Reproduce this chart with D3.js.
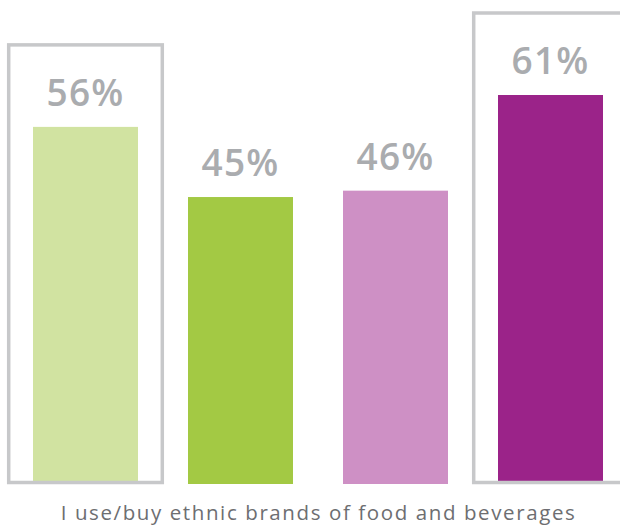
<!DOCTYPE html>
<html>
<head>
<meta charset="utf-8">
<script src="https://cdn.jsdelivr.net/npm/d3@7"></script>
<style>
  html, body { margin: 0; padding: 0; background: #ffffff; }
  svg { display: block; }
</style>
</head>
<body>
<svg id="chart" width="620" height="525"></svg>
<script>
// Survey result: share of each segment who use/buy ethnic brands
const segments = ["Segment A", "Segment B", "Segment C", "Segment D"];
const values = [56, 45, 46, 61];
const valueLabels = ["56%", "45%", "46%", "61%"];
const highlighted = [true, false, false, true];
const barColors = ["#d1e3a1", "#a3c944", "#ce90c5", "#9b2389"];
const caption = "I use/buy ethnic brands of food and beverages";

const svg = d3.select("#chart");
const baseline = 484;

const x = d3.scaleBand()
  .domain(segments)
  .range([33, 603])
  .paddingInner(50 / 155)
  .paddingOuter(0);

const y = d3.scaleLinear()
  .domain([0, 61])
  .range([baseline, 95]);

const data = segments.map((s, i) => ({
  seg: s, value: values[i], label: valueLabels[i],
  hi: highlighted[i], color: barColors[i]
}));

// bars
svg.append("g").selectAll("rect")
  .data(data)
  .join("rect")
  .attr("x", d => x(d.seg))
  .attr("y", d => y(d.value))
  .attr("width", x.bandwidth())
  .attr("height", d => baseline - y(d.value))
  .attr("fill", d => d.color);

// outline frames around highlighted segments
const pad = 24.3;
svg.append("g").selectAll("rect")
  .data(data.filter(d => d.hi))
  .join("rect")
  .attr("x", d => x(d.seg) - pad)
  .attr("y", d => y(d.value) - 82)
  .attr("width", x.bandwidth() + 2 * pad)
  .attr("height", d => 482.5 - (y(d.value) - 82))
  .attr("fill", "none")
  .attr("stroke", "#c7c8ca")
  .attr("stroke-width", 3.5);

// value labels
svg.append("g").selectAll("text")
  .data(data)
  .join("text")
  .attr("x", d => x(d.seg) + x.bandwidth() / 2)
  .attr("y", d => y(d.value) - 21)
  .attr("text-anchor", "middle")
  .attr("font-family", "'Open Sans', 'Noto Sans', sans-serif")
  .attr("font-size", 37)
  .attr("font-weight", 600)
  .attr("letter-spacing", 1.2)
  .attr("fill", "#aaacaf")
  .text(d => d.label);

// category caption
svg.append("text")
  .attr("x", 318.5)
  .attr("y", 519.5)
  .attr("text-anchor", "middle")
  .attr("font-family", "'Open Sans', 'Noto Sans', sans-serif")
  .attr("font-size", 20.5)
  .attr("letter-spacing", 1.6)
  .attr("fill", "#6d6e71")
  .text(caption);
</script>
</body>
</html>
